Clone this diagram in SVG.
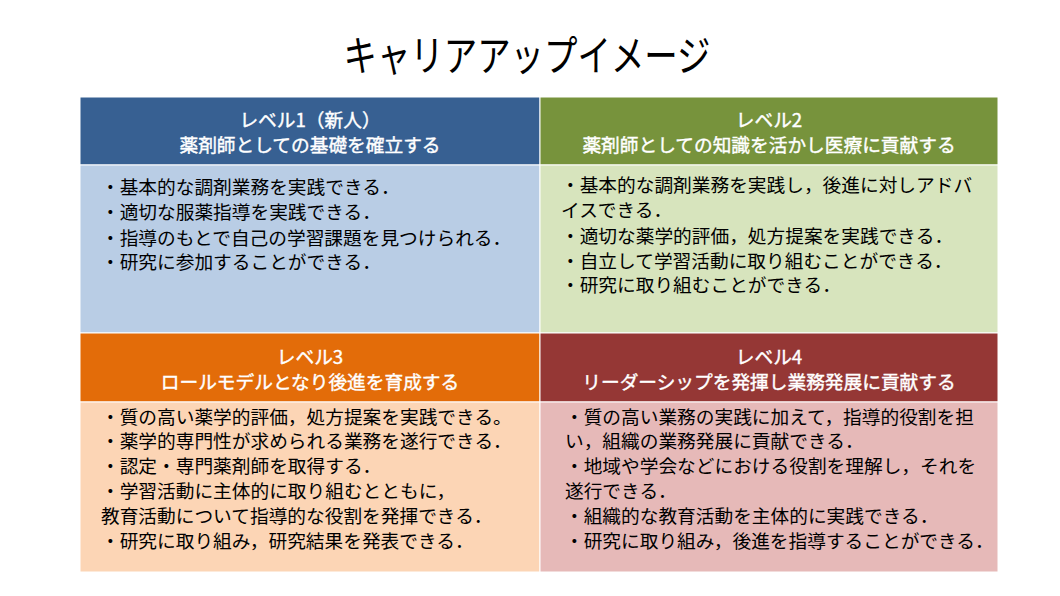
<svg xmlns="http://www.w3.org/2000/svg" width="1060" height="596" viewBox="0 0 1060 596">
<style>
text{font-family:"Noto Sans CJK JP","Noto Sans",sans-serif;}
.title{font-size:42px;fill:#000;}
.hd{font-size:18.7px;fill:#fff;stroke:#fff;stroke-width:0.4px;text-anchor:middle;}
.bd{font-size:18.7px;fill:#000;}
.cell{stroke:#fff;stroke-width:1;}
</style>
<rect width="1060" height="596" fill="#fff"/>
<text class="title" x="527" y="71" text-anchor="middle" textLength="367" lengthAdjust="spacingAndGlyphs">キャリアアップイメージ</text>

<g id="level1">
<rect class="cell" x="80" y="97" width="460" height="68" fill="#376092"/>
<rect class="cell" x="80" y="165" width="460" height="168" fill="#B9CDE5"/>
<text class="hd" x="310" y="127">レベル1（新人）</text>
<text class="hd" x="310" y="152">薬剤師としての基礎を確立する</text>
<text class="bd" x="101" y="194">・基本的な調剤業務を実践できる．</text>
<text class="bd" x="101" y="219">・適切な服薬指導を実践できる．</text>
<text class="bd" x="101" y="245">・指導のもとで自己の学習課題を見つけられる．</text>
<text class="bd" x="101" y="269">・研究に参加することができる．</text>
</g>

<g id="level2">
<rect class="cell" x="540" y="97" width="458" height="68" fill="#77933C"/>
<rect class="cell" x="540" y="165" width="458" height="168" fill="#D7E4BD"/>
<text class="hd" x="769" y="127">レベル2</text>
<text class="hd" x="769" y="152">薬剤師としての知識を活かし医療に貢献する</text>
<text class="bd" x="561" y="192">・基本的な調剤業務を実践し，後進に対しアドバ</text>
<text class="bd" x="561" y="217">イスできる．</text>
<text class="bd" x="561" y="243">・適切な薬学的評価，処方提案を実践できる．</text>
<text class="bd" x="561" y="268">・自立して学習活動に取り組むことができる．</text>
<text class="bd" x="561" y="292">・研究に取り組むことができる．</text>
</g>

<g id="level3">
<rect class="cell" x="80" y="333" width="460" height="69" fill="#E36C09"/>
<rect class="cell" x="80" y="402" width="460" height="170" fill="#FCD5B5"/>
<text class="hd" x="310" y="364">レベル3</text>
<text class="hd" x="310" y="389">ロールモデルとなり後進を育成する</text>
<text class="bd" x="101" y="424">・質の高い薬学的評価，処方提案を実践できる。</text>
<text class="bd" x="101" y="448">・薬学的専門性が求められる業務を遂行できる．</text>
<text class="bd" x="101" y="473">・認定・専門薬剤師を取得する．</text>
<text class="bd" x="101" y="498">・学習活動に主体的に取り組むとともに，</text>
<text class="bd" x="101" y="523">教育活動について指導的な役割を発揮できる．</text>
<text class="bd" x="101" y="548">・研究に取り組み，研究結果を発表できる．</text>
</g>

<g id="level4">
<rect class="cell" x="540" y="333" width="458" height="69" fill="#953735"/>
<rect class="cell" x="540" y="402" width="458" height="170" fill="#E6B9B8"/>
<text class="hd" x="769" y="364">レベル4</text>
<text class="hd" x="769" y="389">リーダーシップを発揮し業務発展に貢献する</text>
<text class="bd" x="565" y="424">・質の高い業務の実践に加えて，指導的役割を担</text>
<text class="bd" x="565" y="448">い，組織の業務発展に貢献できる．</text>
<text class="bd" x="565" y="473">・地域や学会などにおける役割を理解し，それを</text>
<text class="bd" x="565" y="498">遂行できる．</text>
<text class="bd" x="565" y="523">・組織的な教育活動を主体的に実践できる．</text>
<text class="bd" x="565" y="548">・研究に取り組み，後進を指導することができる．</text>
</g>
</svg>
